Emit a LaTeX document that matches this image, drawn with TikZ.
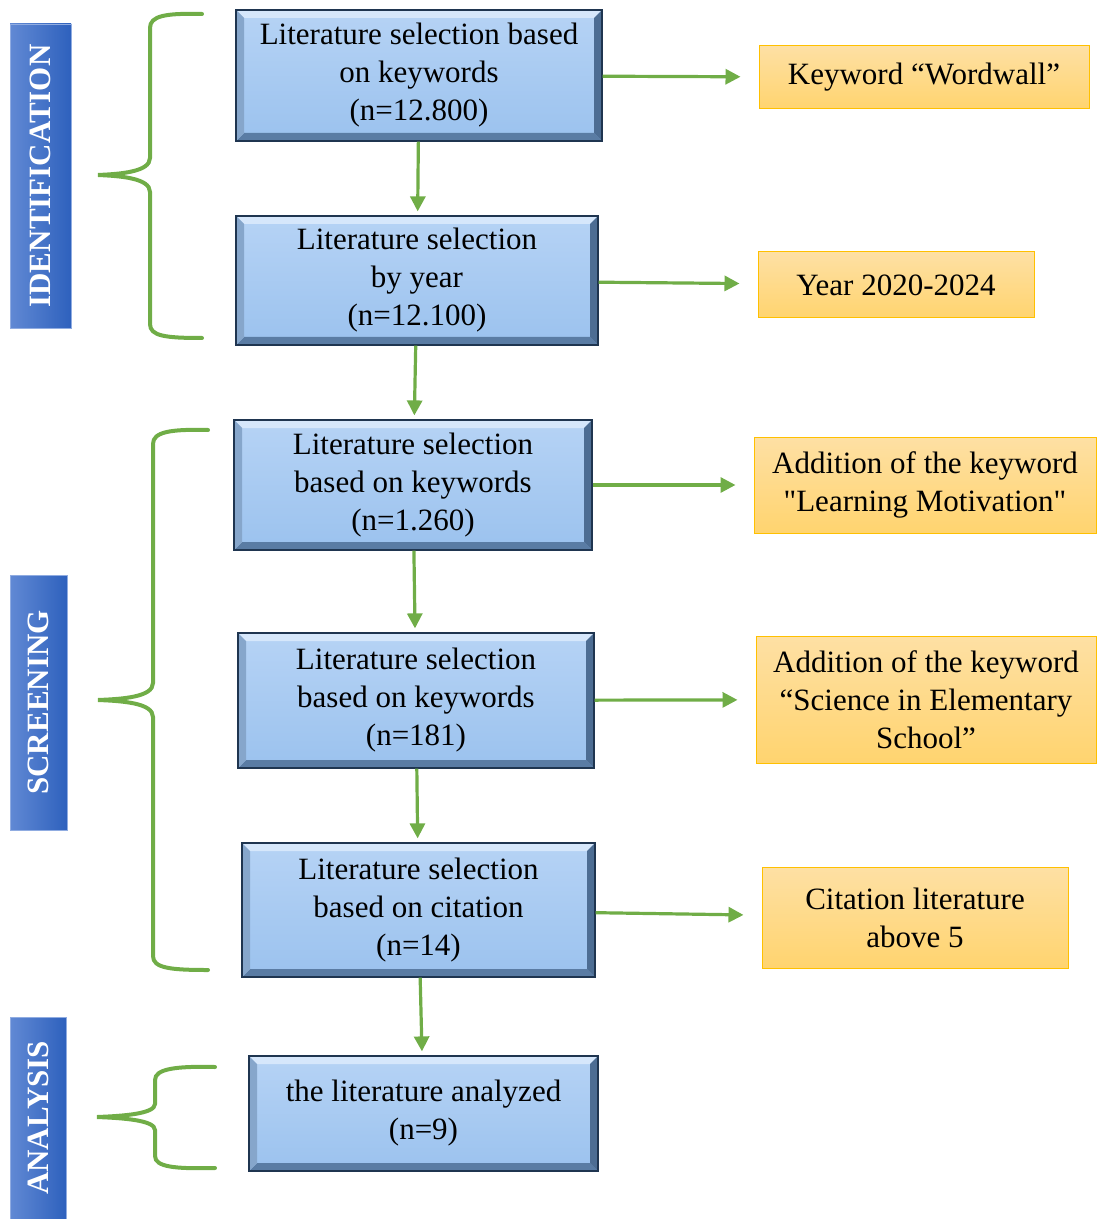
\documentclass[tikz,border=0pt]{standalone}
\usepackage{fontspec}
\setmainfont{Liberation Serif}
\newfontfamily\plainserif{Liberation Serif}
\usetikzlibrary{arrows.meta}

\definecolor{flowgreen}{HTML}{70AD47}
\definecolor{boxtop}{HTML}{B6D3F5}
\definecolor{boxbot}{HTML}{9BC2EE}
\definecolor{boxline}{HTML}{1F3550}
\definecolor{bevtop}{HTML}{D6E7FB}
\definecolor{bevleft}{HTML}{86A6CB}
\definecolor{bevright}{HTML}{4D6D93}
\definecolor{bevbot}{HTML}{5A7CA4}
\definecolor{notetop}{HTML}{FEE0A4}
\definecolor{notebot}{HTML}{FFD46F}
\definecolor{noteline}{HTML}{FFC000}
\definecolor{sidelight}{HTML}{6189D4}
\definecolor{sidedark}{HTML}{2E61BD}

\tikzset{
    bevel/.style={path picture={
        \path (path picture bounding box.north west) coordinate (bnw)
              (path picture bounding box.north east) coordinate (bne)
              (path picture bounding box.south west) coordinate (bsw)
              (path picture bounding box.south east) coordinate (bse);
        \fill[bevtop] (bnw) -- (bne) -- ([shift={(-4pt,-4pt)}]bne) -- ([shift={(4pt,-4pt)}]bnw) -- cycle;
        \fill[bevbot] (bsw) -- (bse) -- ([shift={(-4pt,4pt)}]bse) -- ([shift={(4pt,4pt)}]bsw) -- cycle;
        \fill[bevleft] (bnw) -- (bsw) -- ([shift={(4pt,4pt)}]bsw) -- ([shift={(4pt,-4pt)}]bnw) -- cycle;
        \fill[bevright] (bne) -- (bse) -- ([shift={(-4pt,4pt)}]bse) -- ([shift={(-4pt,-4pt)}]bne) -- cycle;
    }},
    selbox/.style={draw=boxline, line width=0.6pt, top color=boxtop, bottom color=boxbot,
        bevel, align=center, inner sep=0pt, font=\fontsize{15.5}{19}\selectfont},
    notebox/.style={draw=noteline, line width=0.5pt, top color=notetop, bottom color=notebot,
        align=center, inner sep=0pt, font=\fontsize{15.5}{19}\selectfont},
    sidebar/.style={rotate=90, draw=sidelight!70!white, line width=0.4pt,
        left color=sidelight, right color=sidedark, text=white, inner sep=0pt,
        font=\fontsize{15.5}{18}\selectfont\bfseries},
    flow/.style={draw=flowgreen, line width=1.6pt, -{Triangle[length=7.5pt,width=7.5pt]}},
    brace/.style={draw=flowgreen, line width=2pt, line cap=round},
}

\begin{document}
\begin{tikzpicture}[x=0.5pt, y=-0.5pt]
\useasboundingbox (0,0) rectangle (1097,1219);

% phases
\node[sidebar, minimum width=152pt, minimum height=30.5pt] (ident) at (40.5,176) {IDENTIFICATION};
\node[sidebar, minimum width=127.5pt, minimum height=28.5pt] (screen) at (38.5,702.5) {SCREENING};
\node[sidebar, minimum width=101pt, minimum height=28pt] (analys) at (38,1118) {ANALYSIS};

% braces
\begin{scope}[brace]
    \draw (202,14) .. controls (165,13) and (150,16) .. (150,28)
        -- (150,158) .. controls (150,172) and (120,174) .. (98,175)
        .. controls (120,176) and (150,178) .. (150,192)
        -- (150,324) .. controls (150,336) and (165,338) .. (202,338);
    \draw (208,430) .. controls (170,429) and (153,432) .. (153,444)
        -- (153,683) .. controls (153,697) and (123,699) .. (98,700)
        .. controls (123,701) and (153,703) .. (153,717)
        -- (153,956) .. controls (153,968) and (170,970) .. (208,970);
    \draw (215,1067) .. controls (175,1066) and (155,1069) .. (155,1080)
        -- (155,1104) .. controls (155,1114) and (122,1116) .. (97,1117)
        .. controls (122,1118) and (155,1120) .. (155,1130)
        -- (155,1156) .. controls (155,1167) and (175,1169) .. (215,1168);
\end{scope}

% selection steps
\node[selbox, minimum width=183pt, minimum height=65.5pt] (s1) at (419,75.5)
    {Literature selection based\\on keywords\\(n=12.800)};
\node[selbox, minimum width=181pt, minimum height=64.5pt] (s2) at (417,280.5)
    {Literature selection\\by year\\(n=12.100)};
\node[selbox, minimum width=179pt, minimum height=65pt] (s3) at (413,485)
    {Literature selection\\based on keywords\\(n=1.260)};
\node[selbox, minimum width=178pt, minimum height=67.5pt] (s4) at (416,700.5)
    {Literature selection\\based on keywords\\(n=181)};
\node[selbox, minimum width=176.5pt, minimum height=67pt] (s5) at (418.5,910)
    {Literature selection\\based on citation\\(n=14)};
\node[selbox, minimum width=174.5pt, minimum height=57.5pt] (s6) at (423.5,1113.5)
    {the literature analyzed\\(n=9)};

% criteria
\node[notebox, minimum width=165pt, minimum height=31.5pt] (c1) at (924,77.5)
    {Keyword “Wordwall”};
\node[notebox, minimum width=138pt, minimum height=33pt] (c2) at (896,285)
    {Year 2020-2024};
\node[notebox, minimum width=171pt, minimum height=48pt] (c3) at (925,485)
    {Addition of the keyword\\{\plainserif "Learning Motivation"}};
\node[notebox, minimum width=170pt, minimum height=63.5pt] (c4) at (926,699.5)
    {Addition of the keyword\\“Science in Elementary\\School”};
\node[notebox, minimum width=153pt, minimum height=50.5pt] (c5) at (915,917.5)
    {Citation literature\\above 5};

% arrows
\begin{scope}[shorten >=2pt]
    \draw[flow] (s1) -- (s2);
    \draw[flow] (s2) -- (s3);
    \draw[flow] (s3) -- (s4);
    \draw[flow] (s4) -- (s5);
    \draw[flow] (s5) -- (s6);
\end{scope}
\begin{scope}[shorten >=9pt]
    \draw[flow] (s1) -- (c1);
    \draw[flow] (s2) -- (c2);
    \draw[flow] (s3) -- (c3);
    \draw[flow] (s4) -- (c4);
    \draw[flow] (s5) -- (c5);
\end{scope}

\end{tikzpicture}
\end{document}
